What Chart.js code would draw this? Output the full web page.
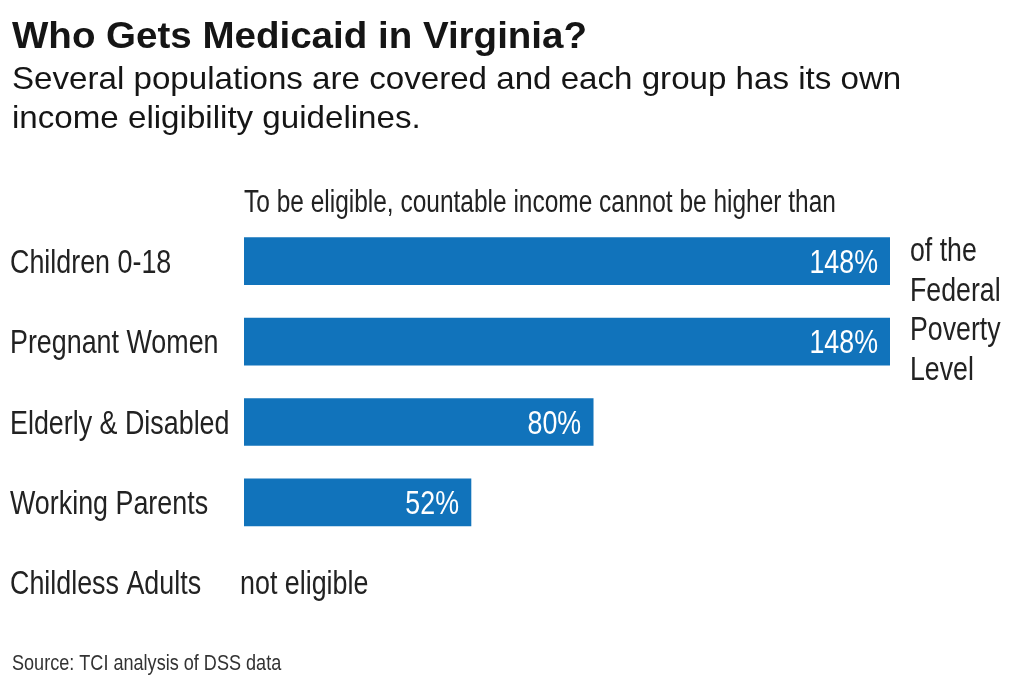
<!DOCTYPE html>
<html>
<head>
<meta charset="utf-8">
<script src="https://cdn.jsdelivr.net/npm/chart.js@4/dist/chart.umd.min.js"></script>
<style>
  html, body { margin: 0; padding: 0; background: #fff; }
</style>
</head>
<body>
<canvas id="chart" width="1024" height="682"></canvas>
<script>
const groups = ['Children 0-18', 'Pregnant Women', 'Elderly & Disabled', 'Working Parents', 'Childless Adults'];
const incomeLimit = [148, 148, 80, 52, null];
const valueLabels = ['148%', '148%', '80%', '52%', 'not eligible'];
const title = 'Who Gets Medicaid in Virginia?';
const subtitle = ['Several populations are covered and each group has its own', 'income eligibility guidelines.'];
const axisNote = 'To be eligible, countable income cannot be higher than';
const sideNote = ['of the', 'Federal', 'Poverty', 'Level'];
const source = 'Source: TCI analysis of DSS data';

const face = "'Liberation Sans', Arial, sans-serif";
const barColor = '#1173bb';
const ink = '#222';

// draw text squeezed (or stretched) horizontally, to imitate a condensed face
function txt(ctx, s, x, y, size, sx, color, align, weight) {
  ctx.save();
  ctx.translate(x, y);
  ctx.scale(sx, 1);
  ctx.font = (weight || '') + ' ' + size + 'px ' + face;
  ctx.fillStyle = color;
  ctx.textAlign = align || 'left';
  ctx.textBaseline = 'alphabetic';
  ctx.fillText(s, 0, 0);
  ctx.restore();
}

const labelsPlugin = {
  id: 'labels',
  afterDatasetsDraw(chart) {
    const ctx = chart.ctx;
    const x = chart.scales.x;
    const y = chart.scales.y;
    const cond = 0.8;

    chart.data.labels.forEach((lab, i) => {
      const py = y.getPixelForValue(i) + 11.5;
      txt(ctx, lab, 10, py, 33.6, cond, ink);
      const v = incomeLimit[i];
      if (v == null) {
        txt(ctx, valueLabels[i], x.left - 4, py, 33.6, cond, ink);
      } else {
        txt(ctx, valueLabels[i], x.getPixelForValue(v) - 12, py, 33.5, cond, '#fff', 'right');
      }
    });

    txt(ctx, axisNote, x.left, 212, 30.6, cond, ink);
    sideNote.forEach((t, i) => txt(ctx, t, x.right + 20, 261 + i * 39.5, 33.4, cond, ink));
    txt(ctx, source, 12, 670, 22.6, cond, '#333');

    txt(ctx, title, 12, 48, 36, 1.07, '#151515', 'left', 'bold');
    subtitle.forEach((t, i) => txt(ctx, t, 12, 89 + i * 39, 32, 1.035, '#151515'));
  }
};

new Chart(document.getElementById('chart'), {
  type: 'bar',
  data: {
    labels: groups,
    datasets: [{
      data: incomeLimit,
      backgroundColor: barColor,
      barThickness: 47,
      borderWidth: 0
    }]
  },
  options: {
    indexAxis: 'y',
    responsive: false,
    animation: false,
    layout: { padding: { left: 10, right: 134, top: 221, bottom: 59 } },
    plugins: { legend: { display: false }, tooltip: { enabled: false } },
    scales: {
      x: { min: 0, max: 148, display: false },
      y: {
        grid: { display: false },
        border: { display: false },
        afterFit(axis) { axis.width = 234; },
        ticks: { display: false }
      }
    }
  },
  plugins: [labelsPlugin]
});
</script>
</body>
</html>
